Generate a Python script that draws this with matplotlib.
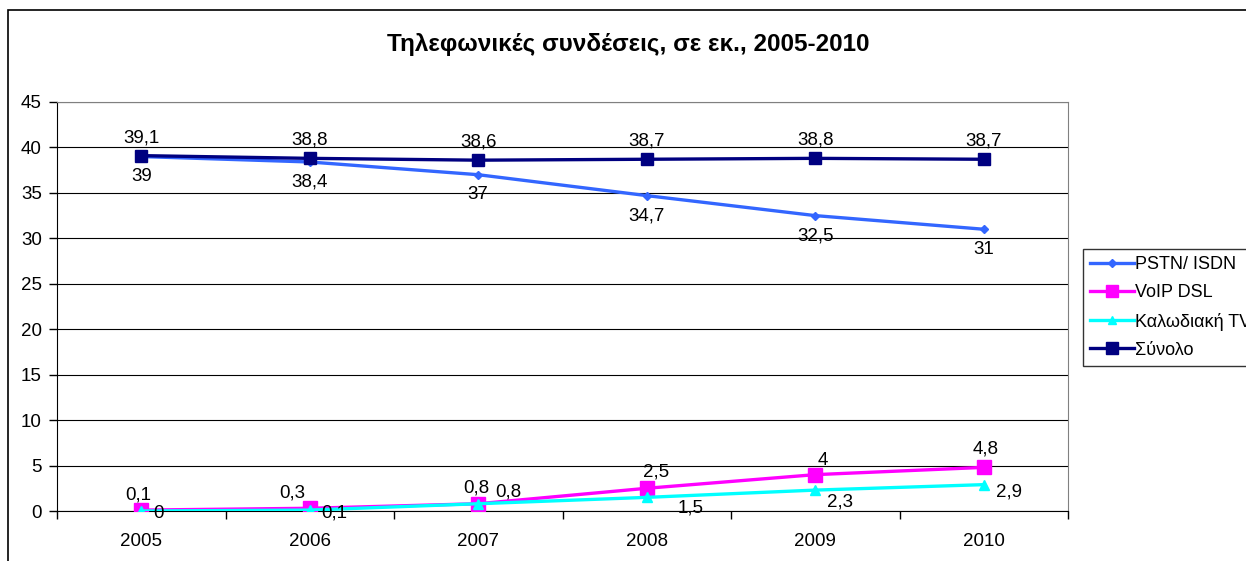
import matplotlib.pyplot as plt
from matplotlib.patches import Rectangle

plt.rcParams["font.family"] = ["Liberation Sans", "DejaVu Sans"]

years = ["2005", "2006", "2007", "2008", "2009", "2010"]
pstn = [39, 38.4, 37, 34.7, 32.5, 31]
voip = [0.1, 0.3, 0.8, 2.5, 4, 4.8]
cable = [0, 0.1, 0.8, 1.5, 2.3, 2.9]
total = [39.1, 38.8, 38.6, 38.7, 38.8, 38.7]

title = "Τηλεφωνικές συνδέσεις, σε εκ., 2005-2010"
names = ["PSTN/ ISDN", "VoIP DSL", "Καλωδιακή TV", "Σύνολο"]


def fmt(v):
    return f"{v:g}".replace(".", ",")


W, H = 1246, 561
fig = plt.figure(figsize=(W / 100, H / 100), dpi=100)

# chart border (runs off the right and bottom of the picture)
fig.patches.append(Rectangle((8 / W, -0.1), 1.2, 1 - 10 / H + 0.1,
                             transform=fig.transFigure, fill=False,
                             edgecolor="black", lw=1.2, clip_on=False))

ax = fig.add_axes([57 / W, (H - 511) / H, (1068 - 57) / W, (511 - 102) / H])

x = list(range(len(years)))
l1, = ax.plot(x, pstn, color="#3366FF", lw=2.4, marker="D", ms=4.5, zorder=3)
l2, = ax.plot(x, voip, color="#FF00FF", lw=2.4, marker="s", ms=10, zorder=3)
l3, = ax.plot(x, cable, color="#00FFFF", lw=2.4, marker="^", ms=7, zorder=4)
l4, = ax.plot(x, total, color="#000080", lw=2.4, marker="s", ms=9, zorder=5)

ax.set_xlim(-0.5, 5.5)
ax.set_ylim(0, 45)
ax.set_yticks(range(0, 46, 5))
ax.set_xticks(x)
ax.set_xticklabels(years)
ax.set_xticks([i - 0.5 for i in range(len(years) + 1)], minor=True)
ax.tick_params(axis="x", which="major", length=0, pad=16, labelsize=13.5)
ax.tick_params(axis="x", which="minor", length=6, width=1, direction="out")
ax.tick_params(axis="y", length=6, width=1, direction="out", pad=5, labelsize=13.5)
ax.yaxis.grid(True, color="black", lw=0.8)
ax.set_axisbelow(True)
for side in ["top", "right"]:
    ax.spines[side].set_color("#808080")
for side in ["left", "bottom"]:
    ax.spines[side].set_color("black")

lab = dict(textcoords="offset pixels", fontsize=13.5, zorder=6)
for i in x:
    ax.annotate(fmt(total[i]), (i, total[i]), xytext=(0, 18), ha="center", va="center", **lab)
    ax.annotate(fmt(pstn[i]), (i, pstn[i]), xytext=(0, -20), ha="center", va="center", **lab)

voip_off = [(-3, 15), (-18, 15), (-2, 16), (9, 16), (8, 14), (2, 18)]
for i in x:
    ax.annotate(fmt(voip[i]), (i, voip[i]), xytext=voip_off[i], ha="center", va="center", **lab)

cable_off = [(12, -2), (12, -3), (17, 12), (31, -11), (12, -12), (12, -7)]
for i in x:
    ax.annotate(fmt(cable[i]), (i, cable[i]), xytext=cable_off[i], ha="left", va="center", **lab)

fig.text(628 / W, 1 - 44 / H, title, ha="center", va="center",
         fontsize=17.5, fontweight="bold")

# legend sits partly outside the picture, as in the source
leg = fig.legend([l1, l2, l3, l4], names, loc="upper left",
                 bbox_to_anchor=(1083 / W, 1 - 249 / H), fontsize=13,
                 frameon=True, fancybox=False, edgecolor="black",
                 handlelength=2.4, handletextpad=0.1, borderpad=0.4,
                 labelspacing=0.62, borderaxespad=0, markerscale=0.9)
leg.get_frame().set_linewidth(1)

fig.savefig("out.png", dpi=100)
